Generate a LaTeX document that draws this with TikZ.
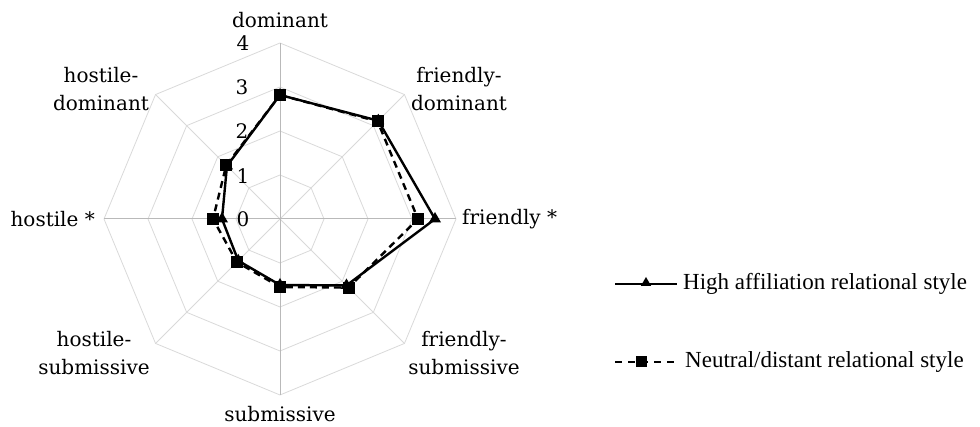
\documentclass[tikz,border=0pt]{standalone}
\usepackage{fontspec}
\setmainfont{DejaVu Serif}
\newfontfamily\legendfont{Liberation Serif}
\usetikzlibrary{shapes.geometric}
\tikzset{
  grid/.style={draw=gray!30,line width=0.8pt},
  mainaxis/.style={draw=gray!55,line width=1pt},
  highline/.style={line width=2.4pt,line join=round},
  neutralline/.style={line width=2.4pt,dash pattern=on 7pt off 5pt},
  sqmark/.style={draw=none,fill=black,minimum size=12pt,inner sep=0pt},
  trimark/.style={regular polygon,regular polygon sides=3,draw=none,fill=black,minimum size=14pt,inner sep=0pt},
  lab/.style={font=\fontsize{20}{28}\selectfont,align=center,inner sep=0pt},
  ticklab/.style={font=\fontsize{20}{22}\selectfont,inner sep=0pt},
  legtext/.style={font=\legendfont\fontsize{23}{26}\selectfont,anchor=west,inner sep=0pt}
}
\begin{document}
\begin{tikzpicture}[x=1pt,y=1pt]
  \useasboundingbox (0,0) rectangle (980,427);
  \begin{scope}[shift={(280,208)}]
    % rings
    \draw[grid] (0:44) -- (45:44) -- (90:44) -- (135:44) -- (180:44) -- (225:44) -- (270:44) -- (315:44) -- cycle;
    \draw[grid] (0:88) -- (45:88) -- (90:88) -- (135:88) -- (180:88) -- (225:88) -- (270:88) -- (315:88) -- cycle;
    \draw[grid] (0:132) -- (45:132) -- (90:132) -- (135:132) -- (180:132) -- (225:132) -- (270:132) -- (315:132) -- cycle;
    \draw[grid] (0:176) -- (45:176) -- (90:176) -- (135:176) -- (180:176) -- (225:176) -- (270:176) -- (315:176) -- cycle;
    % spokes
    \coordinate (c) at (0,0);
    \draw[grid] (c) -- (45:176);
    \draw[grid] (c) -- (135:176);
    \draw[grid] (c) -- (225:176);
    \draw[grid] (c) -- (315:176);
    \draw[mainaxis] (c) -- (0:176);
    \draw[mainaxis] (c) -- (90:176);
    \draw[mainaxis] (c) -- (180:176);
    \draw[mainaxis] (c) -- (270:176);
    % scale
    \draw
      (-37,0) node[ticklab] (t0){0}
      (-37,43) node[ticklab] (t1){1}
      (-38,88) node[ticklab] (t2){2}
      (-38,132) node[ticklab] (t3){3}
      (-37,176) node[ticklab] (t4){4};
    % axis names
    \draw
      (0,199) node[lab] (ldom){dominant}
      (179,130) node[lab] (lfdom){friendly-\\dominant}
      (182,0) node[lab,anchor=west] (lfri){friendly *}
      (184,-134) node[lab] (lfsub){friendly-\\submissive}
      (0,-195) node[lab] (lsub){submissive}
      (-186,-134) node[lab] (lhsub){hostile-\\submissive}
      (-185,0) node[lab,anchor=east] (lhos){hostile *}
      (-179,130) node[lab] (lhdom){hostile-\\dominant};
    % high affiliation
    \coordinate (h0) at (90:124);
    \coordinate (h1) at (45:139);
    \coordinate (h2) at (0:155);
    \coordinate (h3) at (-45:94);
    \coordinate (h4) at (-90:66);
    \coordinate (h5) at (-135:59);
    \coordinate (h6) at (180:58);
    \coordinate (h7) at (135:75);
    % neutral/distant
    \coordinate (d0) at (90:124);
    \coordinate (d1) at (45:138);
    \coordinate (d2) at (0:138);
    \coordinate (d3) at (-45:97);
    \coordinate (d4) at (-90:68);
    \coordinate (d5) at (-135:61);
    \coordinate (d6) at (180:67);
    \coordinate (d7) at (135:76);
    \begin{scope}[highline]
      \draw (h0) -- (h1) -- (h2) -- (h3) -- (h4) -- (h5) -- (h6) -- (h7) -- cycle;
    \end{scope}
    \begin{scope}[neutralline]
      \draw (d0) -- (d1) -- (d2) -- (d3) -- (d4) -- (d5) -- (d6) -- (d7) -- cycle;
    \end{scope}
    \draw
      (h0) node[trimark]{} (h1) node[trimark]{} (h2) node[trimark]{} (h3) node[trimark]{}
      (h4) node[trimark]{} (h5) node[trimark]{} (h6) node[trimark]{} (h7) node[trimark]{};
    \draw
      (d0) node[sqmark]{} (d1) node[sqmark]{} (d2) node[sqmark]{} (d3) node[sqmark]{}
      (d4) node[sqmark]{} (d5) node[sqmark]{} (d6) node[sqmark]{} (d7) node[sqmark]{};
  \end{scope}
  % legend
  \coordinate (ha) at (615,143);
  \coordinate (hb) at (677,143);
  \coordinate (na) at (615,65);
  \coordinate (nb) at (677,65);
  \draw[line width=1.8pt] (ha) -- (hb);
  \node[trimark,minimum size=12pt] (hmark) at (646,144) {};
  \draw[line width=1.8pt,dash pattern=on 7pt off 6pt] (na) -- (nb);
  \node[sqmark,minimum size=11pt] (nmark) at (641,65) {};
  \node[legtext] (hleg) at (683,143) {High affiliation relational style};
  \node[legtext] (nleg) at (685,65) {Neutral/distant relational style};
\end{tikzpicture}
\end{document}
